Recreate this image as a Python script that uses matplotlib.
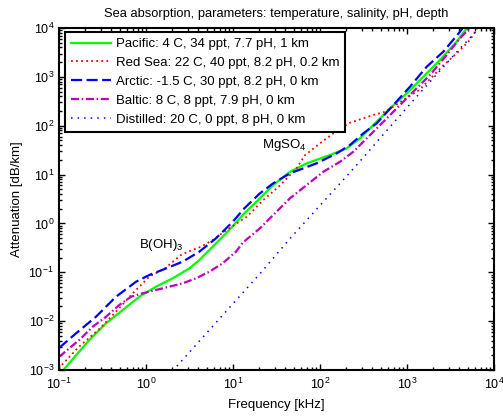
import matplotlib
matplotlib.use('Agg')
import matplotlib.pyplot as plt
from matplotlib.ticker import LogLocator, NullFormatter

plt.rcParams['font.family'] = ['Liberation Sans', 'DejaVu Sans']
plt.rcParams['mathtext.default'] = 'regular'
plt.rcParams['font.size'] = 9

# values (frequency in kHz, attenuation in dB/km)
pacific_f = [0.1, 0.112, 0.223, 0.347, 0.540, 0.838, 1.30, 2.03, 3.15, 4.10, 5.85, 9.07, 13.5,
             20.4, 29.0, 45.2, 70.3, 130, 203, 288, 410, 638, 993, 1540, 2390, 3720, 4850, 5200]
pacific_a = [0.0008, 0.001, 0.00411, 0.00904, 0.0169, 0.0316, 0.0507, 0.0753, 0.120, 0.178, 0.334,
             0.733, 1.61, 3.27, 6.11, 11.4, 17.0, 25.1, 34.4, 55.2, 103, 227, 460, 1007, 2213,
             5240, 9840, 11500]

redsea_f = [0.1, 0.107, 0.170, 0.296, 0.452, 0.710, 1.09, 1.65, 2.52, 3.29, 4.29, 5.85, 8.45,
            14.4, 22.3, 34.7, 53.9, 67.3, 100, 142, 221, 315, 410, 535, 697, 906, 1384, 1837,
            2600, 3890, 5070, 5780, 6500]
redsea_a = [0.00105, 0.00125, 0.00300, 0.00713, 0.0156, 0.0377, 0.0813, 0.120, 0.226, 0.279,
            0.334, 0.458, 0.733, 1.37, 3.01, 6.0, 13.5, 25.0, 43.6, 69.8, 115, 142, 166, 188, 245,
            336, 538, 900, 1700, 3266, 5240, 7180, 10400]

arctic_f = [0.1, 0.157, 0.266, 0.452, 0.768, 1.09, 1.70, 2.64, 4.10, 6.38, 9.93, 13.5, 20.4,
            29.0, 45.2, 91.6, 156, 221, 315, 449, 697, 1083, 1683, 2612, 4064, 4500]
arctic_a = [0.00282, 0.00564, 0.0123, 0.0316, 0.0641, 0.0879, 0.120, 0.165, 0.264, 0.496, 1.08,
            2.04, 4.13, 6.62, 10.6, 17.0, 27.2, 40.3, 69.8, 112, 265, 629, 1611, 3266, 8395, 10800]

baltic_f = [0.1, 0.131, 0.171, 0.244, 0.347, 0.493, 0.673, 0.917, 1.30, 1.85, 2.64, 3.76, 5.35,
            7.62, 10.8, 13.0, 20.4, 29.0, 45.2, 70.3, 109, 170, 242, 344, 490, 762, 1180, 1837,
            2858, 4064, 5400]
baltic_a = [0.00185, 0.00278, 0.00411, 0.00769, 0.0123, 0.0214, 0.0316, 0.0372, 0.0434, 0.0507,
            0.0594, 0.0754, 0.103, 0.153, 0.264, 0.407, 0.794, 1.49, 3.27, 6.11, 11.4, 18.3, 29.4,
            55.2, 103, 227, 497, 1090, 2797, 6150, 10400]

distilled_f = [1.8, 2.15, 21.4, 45.2, 264, 638, 1540, 3720, 7100]
distilled_a = [0.00075, 0.00108, 0.103, 0.49, 15.7, 95, 560, 3200, 11000]

labels = ['Pacific: 4 C, 34 ppt, 7.7 pH, 1 km',
          'Red Sea: 22 C, 40 ppt, 8.2 pH, 0.2 km',
          'Arctic: -1.5 C, 30 ppt, 8.2 pH, 0 km',
          'Baltic: 8 C, 8 ppt, 7.9 pH, 0 km',
          'Distilled: 20 C, 0 ppt, 8 pH, 0 km']

fig = plt.figure(figsize=(5.03, 4.16), dpi=100)
ax = fig.add_axes([59 / 503, 46 / 416, 435 / 503, 342 / 416])

ax.loglog(pacific_f, pacific_a, color=(0, 1, 0), lw=1.6, label=labels[0])
ax.loglog(redsea_f, redsea_a, color='r', lw=1.3, dashes=(1, 1.8), label=labels[1])
ax.loglog(arctic_f, arctic_a, color='b', lw=1.6, dashes=(5, 2), label=labels[2])
ax.loglog(baltic_f, baltic_a, color='m', lw=1.6, dashes=(3.6, 1.2, 0.7, 1.2), label=labels[3])
ax.loglog(distilled_f, distilled_a, color='b', lw=1.1, dashes=(1, 3.3), label=labels[4])

ax.set_xlim(0.1, 1e4)
ax.set_ylim(1e-3, 1e4)

ax.xaxis.set_major_locator(LogLocator(base=10, numticks=10))
ax.yaxis.set_major_locator(LogLocator(base=10, numticks=10))
ax.xaxis.set_minor_locator(LogLocator(base=10, subs=range(2, 10), numticks=20))
ax.yaxis.set_minor_locator(LogLocator(base=10, subs=range(2, 10), numticks=20))
ax.xaxis.set_minor_formatter(NullFormatter())
ax.yaxis.set_minor_formatter(NullFormatter())
ax.tick_params(which='both', direction='in', top=True, right=True, width=1, labelsize=9)
ax.tick_params(axis='x', which='major', pad=5)
ax.tick_params(which='major', length=4)
ax.tick_params(which='minor', length=2.5)
for sp in ax.spines.values():
    sp.set_linewidth(1.5)

ax.set_xlabel('Frequency [kHz]', fontsize=9.5, labelpad=5)
ax.set_ylabel('Attenuation [dB/km]', fontsize=9.5)
ax.set_title('Sea absorption, parameters: temperature, salinity, pH, depth', fontsize=9.3, pad=8)

ax.text(0.82, 0.31, 'B(OH)$_3$', fontsize=9.5)
ax.text(21.4, 35.5, 'MgSO$_4$', fontsize=9.5)

leg = ax.legend(loc='upper left', bbox_to_anchor=(0.0138, 0.988), borderaxespad=0,
                fancybox=False, framealpha=1, edgecolor='k', handlelength=3.0,
                handletextpad=0.4, labelspacing=0.5, borderpad=0.45, fontsize=9.5)
leg.get_frame().set_linewidth(1.5)

fig.savefig('out.png', dpi=100)
